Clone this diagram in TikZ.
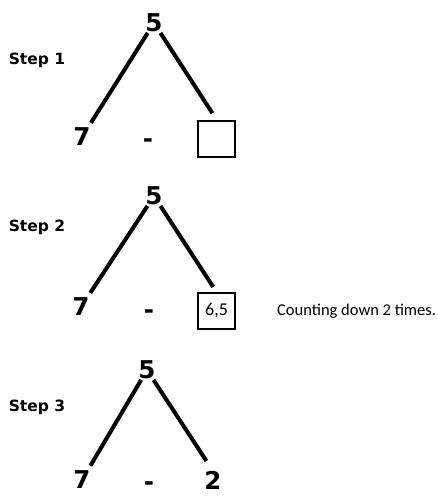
\documentclass[tikz,border=0pt]{standalone}
\usepackage{fontspec}
\setmainfont{Carlito}
\newfontfamily\heavyfont{DejaVu Sans Bold}
\usetikzlibrary{positioning}

\begin{document}
\begin{tikzpicture}[
    x=1pt, y=-1pt,
    num/.style={inner sep=1pt, text height=17.5pt, text depth=0pt,
                font=\heavyfont\fontsize{24.5}{25}\selectfont},
    steplabel/.style={inner sep=0pt, font=\heavyfont\fontsize{15.5}{16}\selectfont},
    answer/.style={draw, line width=2pt, inner sep=0pt, minimum width=37pt,
                   minimum height=36pt, font=\fontsize{18}{18}\selectfont},
    note/.style={inner sep=0pt, font=\fontsize{16.5}{17}\selectfont},
    bond/.style={line width=4pt}
]
\useasboundingbox (0,0) rectangle (438,499);

% Step 1
\node[steplabel] (step1) at (37,60) {Step 1};
\node[num] (top1) at (154,23) {5};
\node[num] (left1) at (82,137) {7};
\node[num] (minus1) at (148,139) {-};
\node[answer] (box1) at (216.5,138.5) {};

\draw[bond, shorten >=5pt] (top1) -- (left1);
\draw[bond, shorten >=7.5pt] (top1) -- (box1.north);

% Step 2
\node[steplabel] (step2) at (37,227) {Step 2};
\node[num] (top2) at (154,196) {5};
\node[num] (left2) at (81,307) {7};
\node[num] (minus2) at (149,310) {-};
\node[answer] (box2) at (216.5,311) {6,5};
\node[note, right=41pt of box2] (count2) {Counting down 2 times.};

\draw[bond, shorten >=5pt] (top2) -- (left2);
\draw[bond, shorten >=6pt] (top2) -- (box2.north);

% Step 3
\node[steplabel] (step3) at (37,407) {Step 3};
\node[num] (top3) at (147,370) {5};
\node[num] (left3) at (82,480) {7};
\node[num] (minus3) at (149,482) {-};
\node[num] (right3) at (213,481) {2};

\draw[bond, shorten >=5pt] (top3) -- (left3);
\draw[bond, shorten >=12pt] (top3) -- (right3.north);

\end{tikzpicture}
\end{document}
